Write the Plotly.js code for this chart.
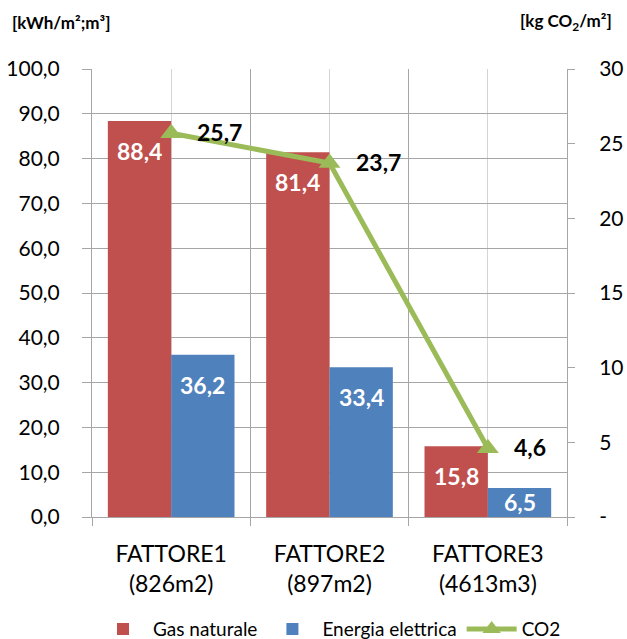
<!DOCTYPE html>
<html>
<head>
<meta charset="utf-8">
<script src="https://cdn.plot.ly/plotly-3.0.1.min.js"></script>
<style>
  html, body { margin: 0; padding: 0; background: #fff; }
  #chart { width: 627px; height: 639px; }
</style>
</head>
<body>
<div id="chart"></div>
<script>
// Consumi per sede: gas naturale ed energia elettrica (asse sinistro), CO2 (asse destro)
const categories = ['FATTORE1<br>(826m2)', 'FATTORE2<br>(897m2)', 'FATTORE3<br>(4613m3)'];
const gasNaturale = [88.4, 81.4, 15.8];
const energiaElettrica = [36.2, 33.4, 6.5];
const co2 = [25.7, 23.7, 4.6];
const leftTicks = [0, 10, 20, 30, 40, 50, 60, 70, 80, 90, 100];
const rightTicks = [0, 5, 10, 15, 20, 25, 30];
const rightTickText = ['-', '5', '10', '15', '20', '25', '30'];

const FONT = 'Lato, "Open Sans", sans-serif';
const RED = '#C0504D';
const BLUE = '#4F81BD';
const GREEN = '#9BBB59';
const GRID = '#A6A6A6';

const W = 627, H = 639;
const M = { l: 92, r: 60, t: 69, b: 122 };
const plotW = W - M.l - M.r, plotH = H - M.t - M.b;
const Y_MAX = 100;

const idx = categories.map((_, i) => i);
const fmt = v => v.toFixed(1).replace('.', ',');

const traces = [
  {
    type: 'bar', name: 'Gas naturale', x: idx, y: gasNaturale,
    marker: { color: RED }, hoverinfo: 'skip'
  },
  {
    type: 'bar', name: 'Energia elettrica', x: idx, y: energiaElettrica,
    marker: { color: BLUE }, hoverinfo: 'skip'
  },
  {
    type: 'scatter', mode: 'lines+markers', name: 'CO2', x: idx, y: co2, yaxis: 'y2',
    line: { color: GREEN, width: 5 },
    marker: { symbol: 'triangle-up', size: 19, color: GREEN }, hoverinfo: 'skip'
  }
];

// value label sits inside the bar top; short bars get it centred instead
const insideShift = v => -Math.min(30, (v / Y_MAX) * plotH / 2);

const annotations = [];
idx.forEach(i => {
  annotations.push({
    x: i - 0.2, y: gasNaturale[i], xref: 'x', yref: 'y', text: fmt(gasNaturale[i]),
    showarrow: false, yanchor: 'middle', yshift: insideShift(gasNaturale[i]),
    font: { family: FONT, size: 23, color: '#fff', weight: 'bold' }
  });
  annotations.push({
    x: i + 0.2, y: energiaElettrica[i], xref: 'x', yref: 'y', text: fmt(energiaElettrica[i]),
    showarrow: false, yanchor: 'middle', yshift: insideShift(energiaElettrica[i]),
    font: { family: FONT, size: 23, color: '#fff', weight: 'bold' }
  });
  annotations.push({
    x: i, y: co2[i], xref: 'x', yref: 'y2', text: fmt(co2[i]),
    showarrow: false, xanchor: 'left', yanchor: 'middle', xshift: 24, yshift: 1,
    font: { family: FONT, size: 23, color: '#000', weight: 'bold' }
  });
});

// unit headers above each value axis (page pixels -> paper units)
const toPaperX = px => (px - M.l) / plotW;
const toPaperY = py => (H - M.b - py) / plotH;
annotations.push({
  x: toPaperX(10), y: toPaperY(22), xref: 'paper', yref: 'paper',
  xanchor: 'left', yanchor: 'middle',
  text: '[kWh/m²;m³]', showarrow: false,
  font: { family: FONT, size: 17, color: '#000', weight: 'bold' }
});
annotations.push({
  x: toPaperX(614), y: toPaperY(22), xref: 'paper', yref: 'paper',
  xanchor: 'right', yanchor: 'middle',
  text: '[kg CO<sub>2</sub>/m²]', showarrow: false,
  font: { family: FONT, size: 17, color: '#000', weight: 'bold' }
});

const layout = {
  width: W, height: H,
  margin: { l: M.l, r: M.r, t: M.t, b: M.b, autoexpand: false },
  paper_bgcolor: '#fff', plot_bgcolor: '#fff',
  font: { family: FONT, size: 20, color: '#000' },
  separators: ',.',
  barmode: 'group', bargap: 0.2, bargroupgap: 0,
  showlegend: true,
  legend: {
    orientation: 'h', x: 0.5, xanchor: 'center', y: -0.208, yanchor: 'top',
    font: { family: FONT, size: 19, color: '#000' },
    itemwidth: 50, traceorder: 'normal', tracegroupgap: 0
  },
  xaxis: {
    range: [-0.5, 2.5], tickvals: idx, ticktext: categories, tickangle: 0,
    showgrid: true, gridcolor: '#D4D4D4', gridwidth: 1,
    ticks: '', ticklabelstandoff: 16,
    showline: true, linecolor: GRID, linewidth: 1,
    zeroline: false, fixedrange: true, automargin: false,
    tickfont: { family: FONT, size: 23 },
    minor: {
      tickvals: [-0.5, 0.5, 1.5, 2.5], showgrid: true, gridcolor: GRID, gridwidth: 1,
      ticks: 'outside', ticklen: 8, tickcolor: GRID, tickwidth: 1
    }
  },
  yaxis: {
    range: [0, Y_MAX], tickvals: leftTicks, tickformat: '.1f',
    showgrid: true, gridcolor: GRID, gridwidth: 1,
    ticks: 'outside', ticklen: 9, tickcolor: GRID, ticklabelstandoff: 18, automargin: false,
    showline: true, linecolor: GRID, linewidth: 1, zeroline: false,
    tickfont: { family: FONT, size: 21 }, fixedrange: true
  },
  yaxis2: {
    range: [0, 30], overlaying: 'y', side: 'right',
    tickvals: rightTicks, ticktext: rightTickText, automargin: false,
    showgrid: false, ticks: 'outside', ticklen: 7, tickcolor: GRID, ticklabelstandoff: 20,
    showline: true, linecolor: GRID, linewidth: 1, zeroline: false,
    tickfont: { family: FONT, size: 21 }, fixedrange: true
  },
  annotations: annotations
};

Plotly.newPlot('chart', traces, layout, { displayModeBar: false, staticPlot: true });
</script>
</body>
</html>
